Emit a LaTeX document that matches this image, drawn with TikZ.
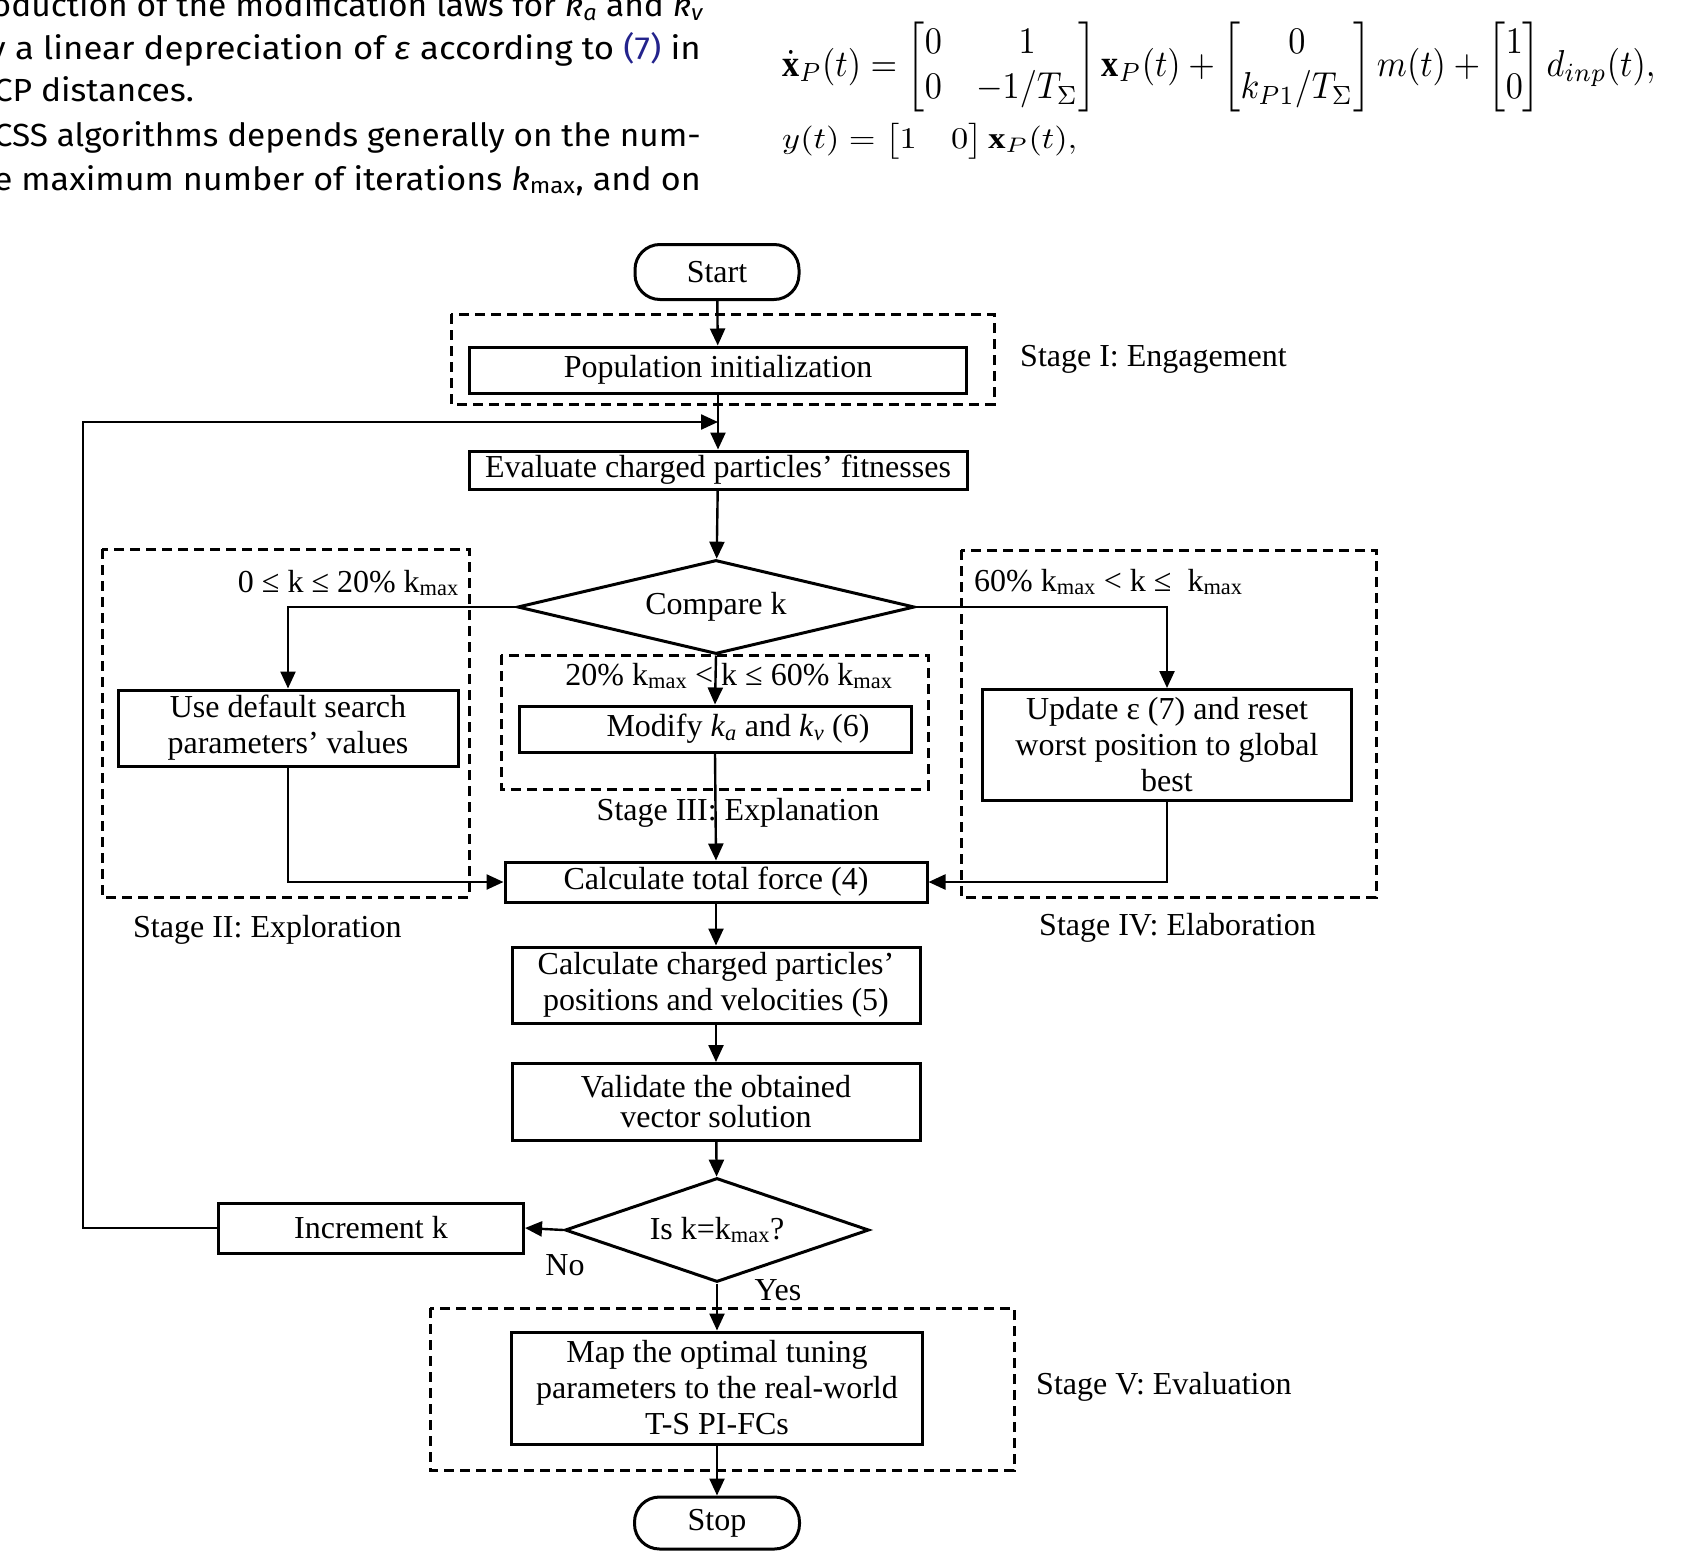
\documentclass[tikz,border=0pt]{standalone}
\usepackage{fontspec}
\usepackage{amsmath}
\setmainfont{Liberation Serif}
\newfontfamily\parafont{Fira Sans}
\usetikzlibrary{shapes.geometric,arrows.meta}
\definecolor{reflink}{RGB}{35,35,140}
\newcommand{\km}{k\textsubscript{max}}

\begin{document}
\begin{tikzpicture}[x=1pt,y=-1pt,
                    font=\fontsize{32}{36}\selectfont,
                    >={Triangle[length=17pt,width=15pt]},
                    line width=2.4pt,
                    block/.style={draw,rectangle,line width=3pt,inner sep=0pt,align=center},
                    term/.style={block,rounded corners=25pt},
                    decision/.style={draw,diamond,line width=3pt,inner sep=0pt,aspect=3},
                    stagebox/.style={line width=3pt,dash pattern=on 10pt off 6pt},
                    lbl/.style={inner sep=0pt},
                    paraline/.style={inner sep=0pt,font=\parafont\fontsize{32}{36}\selectfont}]
                        \useasboundingbox (0,0) rectangle (1695,1560);
                        % page text
                        \node[paraline,anchor=base east] (P1) at (705,17) {\resizebox{712pt}{\height}{oduction of the modification laws for \textit{k}\textsubscript{\textit{a}} and \textit{k}\textsubscript{\textit{v}}}};
                        \node[paraline,anchor=base east] (P2) at (702,60) {\resizebox{712pt}{\height}{y a linear depreciation of \textit{ε} according to \textcolor{reflink}{(7)} in}};
                        \node[paraline,anchor=base east] (P3) at (195,102) {\resizebox{200pt}{\height}{CP distances.}};
                        \node[paraline,anchor=base east] (P4) at (702,147) {\resizebox{707pt}{\height}{CSS algorithms depends generally on the num-}};
                        \node[paraline,anchor=base east] (P5) at (702,190) {\resizebox{707pt}{\height}{e maximum number of iterations \textit{k}\textsubscript{max}, and on}};
                        \node[lbl,anchor=west,font=\normalsize] (E1) at (781,67) {\resizebox*{873pt}{90pt}{$\dot{\mathbf{x}}_P(t)=\begin{bmatrix}0&1\\0&-1/T_\Sigma\end{bmatrix}\mathbf{x}_P(t)+\begin{bmatrix}0\\k_{P1}/T_\Sigma\end{bmatrix}m(t)+\begin{bmatrix}1\\0\end{bmatrix}d_{inp}(t),$}};
                        \node[lbl,anchor=west,font=\normalsize] (E2) at (781,141) {\resizebox*{295pt}{36pt}{$y(t)=\begin{bmatrix}1&0\end{bmatrix}\mathbf{x}_P(t),$}};
                        % Stage I
                        \node[term,minimum width=164pt,minimum height=55pt] (start) at (717,272) {Start};
                        \draw[stagebox] (451,314) rectangle (994,404);
                        \node[block,minimum width=497pt,minimum height=46pt] (pop) at (718,370) {Population initialization};
                        \node[lbl,anchor=west] (LI) at (1019,359) {Stage I: Engagement};
                        \node[block,minimum width=498pt,minimum height=38pt] (eval) at (718,470) {Evaluate charged particles’ fitnesses};
                        \node[decision,minimum width=397pt,minimum height=94pt] (cmp) at (716,607) {Compare k};
                        % Stage II
                        \draw[stagebox] (102,549) rectangle (469,897);
                        \node[lbl,anchor=east] (R1) at (460,583) {0 ≤ k ≤ 20\% \km};
                        \node[block,minimum width=340pt,minimum height=76pt] (use) at (288,728) {Use default search\\parameters’ values};
                        \node[lbl,anchor=west] (LII) at (132,930) {Stage II: Exploration};
                        % Stage III
                        \draw[stagebox] (501,655) rectangle (928,789);
                        \node[lbl] (R2) at (729,676) {20\% \km{} < k ≤ 60\% \km};
                        \node[block,minimum width=392pt,minimum height=46pt] (mod) at (715,729) {\hspace{46pt}Modify \textit{k}\textsubscript{\textit{a}} and \textit{k}\textsubscript{\textit{v}} (6)};
                        \node[lbl] (LIII) at (738,813) {Stage III: Explanation};
                        % Stage IV
                        \draw[stagebox] (961,550) rectangle (1376,897);
                        \node[lbl,anchor=west] (R3) at (973,582) {60\% \km{} < k ≤ \ \km};
                        \node[block,minimum width=369pt,minimum height=111pt] (upd) at (1167,745) {Update ε (7) and reset\\worst position to global\\best};
                        \node[lbl,anchor=west] (LIV) at (1038,928) {Stage IV: Elaboration};
                        % main loop
                        \node[block,minimum width=422pt,minimum height=40pt] (force) at (716,882) {Calculate total force (4)};
                        \node[block,minimum width=408pt,minimum height=76pt] (pos) at (716,985) {Calculate charged particles’\\positions and velocities (5)};
                        \node[block,minimum width=408pt,minimum height=77pt,font=\fontsize{32}{30}\selectfont] (val) at (716,1102) {Validate the obtained\\vector solution};
                        \node[decision,minimum width=304pt,minimum height=104pt] (isk) at (717,1230) {Is k=\km?};
                        \node[block,minimum width=305pt,minimum height=50pt] (inc) at (371,1228) {Increment k};
                        \node[lbl] (no) at (565,1265) {No};
                        \node[lbl] (yes) at (778,1290) {Yes};
                        % Stage V
                        \draw[stagebox] (430,1308) rectangle (1014,1470);
                        \node[block,minimum width=411pt,minimum height=112pt] (map) at (717,1388) {Map the optimal tuning\\parameters to the real-world\\T-S PI-FCs};
                        \node[lbl,anchor=west] (LV) at (1035,1387) {Stage V: Evaluation};
                        \node[term,minimum width=165pt,minimum height=52pt] (stop) at (717,1523) {Stop};
                        % links
                        \coordinate (join) at (718,422);
                        \coordinate (loopL) at (83,422);
                        \draw[->] (start) -- (pop);
                        \draw[->] (pop) -- (eval);
                        \draw[->] (eval) -- (cmp);
                        \draw[->] (cmp.west) -| (use.north);
                        \draw[->] (cmp.south) -- (mod.north);
                        \draw[->] (cmp.east) -| (upd.north);
                        \draw[->] (use.south) |- (force.west);
                        \draw[->] (mod.south) -- (force.north);
                        \draw[->] (upd.south) |- (force.east);
                        \draw[->] (force) -- (pos);
                        \draw[->] (pos) -- (val);
                        \draw[->] (val) -- (isk);
                        \draw[->] (isk.west) -- (inc.east);
                        \draw[->] (inc.west) -| (loopL) -- (join);
                        \draw[->] (isk.south) -- (map.north);
                        \draw[->] (map) -- (stop);
                    \end{tikzpicture}
\end{document}
